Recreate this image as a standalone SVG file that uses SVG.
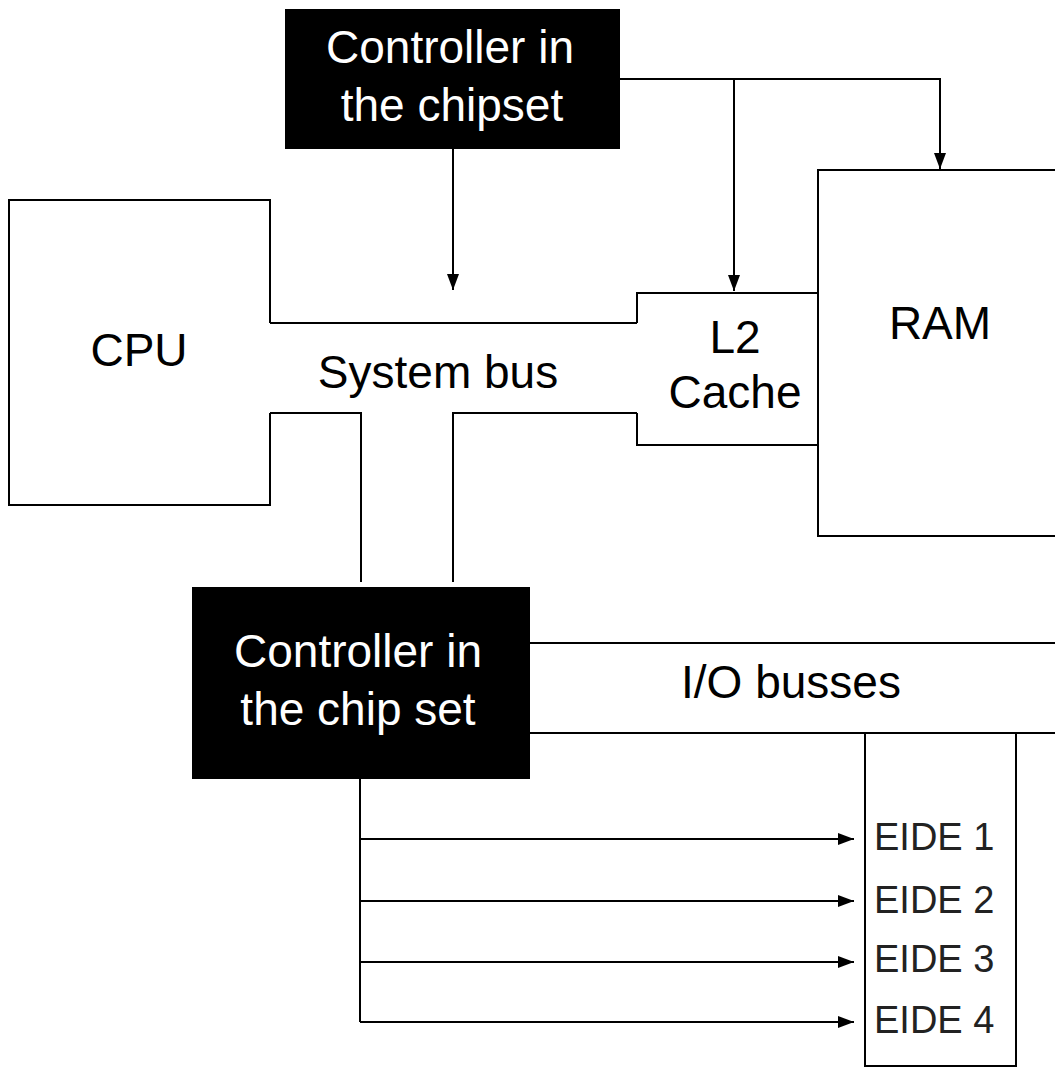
<svg xmlns="http://www.w3.org/2000/svg" width="1055" height="1068" viewBox="0 0 1055 1068">
<style>
.ln{fill:none;stroke:#000;stroke-width:2}
.box{fill:#000}
.wt{fill:#fff;font-family:"Liberation Sans",Arial,sans-serif;font-size:46px;text-anchor:middle}
.bt{fill:#000;font-family:"Liberation Sans",Arial,sans-serif;font-size:46px;text-anchor:middle}
.et{fill:#222;font-family:"Liberation Sans",Arial,sans-serif;font-size:38px}
</style>
<defs>
<marker id="ah" markerUnits="userSpaceOnUse" markerWidth="16" markerHeight="12" refX="16" refY="6" orient="auto">
<path d="M0,0 L16,6 L0,12 z" fill="#000"/>
</marker>
</defs>
<rect width="1055" height="1068" fill="#fff"/>
<g id="controller-top">
<rect class="box" x="285" y="9" width="335" height="140"/>
<text class="wt" x="450" y="63">Controller in</text>
<text class="wt" x="452" y="121">the chipset</text>
</g>
<g id="cpu">
<path class="ln" d="M270,323 V200 H9 V505 H270 V413"/>
<text class="bt" x="139" y="366">CPU</text>
</g>
<g id="system-bus">
<path class="ln" d="M270,323 H637"/>
<path class="ln" d="M270,413 H361 V582"/>
<path class="ln" d="M453,582 V413 H637"/>
<text class="bt" x="438" y="388">System bus</text>
</g>
<g id="l2-cache">
<path class="ln" d="M637,323 V293 H817"/>
<path class="ln" d="M637,413 V445 H817"/>
<text class="bt" x="735" y="353">L2</text>
<text class="bt" x="735" y="408">Cache</text>
</g>
<g id="ram">
<path class="ln" d="M1056,170 H818 V536 H1056"/>
<text class="bt" x="940" y="339">RAM</text>
</g>
<g id="controller-bottom">
<rect class="box" x="192" y="587" width="338" height="192"/>
<text class="wt" x="358" y="667">Controller in</text>
<text class="wt" x="358" y="725">the chip set</text>
</g>
<g id="io-busses">
<path class="ln" d="M530,643 H1056"/>
<path class="ln" d="M530,733 H1056"/>
<text class="bt" x="791" y="698">I/O busses</text>
</g>
<g id="eide">
<path class="ln" d="M865,733 V1066 H1016 V733"/>
<text class="et" x="874" y="850">EIDE 1</text>
<text class="et" x="874" y="913">EIDE 2</text>
<text class="et" x="874" y="972">EIDE 3</text>
<text class="et" x="874" y="1033">EIDE 4</text>
</g>
<g id="connectors">
<path class="ln" d="M620,79 H940 V169" marker-end="url(#ah)"/>
<path class="ln" d="M734,79 V291" marker-end="url(#ah)"/>
<path class="ln" d="M453,149 V290" marker-end="url(#ah)"/>
<path class="ln" d="M360,779 V1022"/>
<path class="ln" d="M360,839 H854" marker-end="url(#ah)"/>
<path class="ln" d="M360,901 H854" marker-end="url(#ah)"/>
<path class="ln" d="M360,962 H854" marker-end="url(#ah)"/>
<path class="ln" d="M360,1022 H854" marker-end="url(#ah)"/>
</g>
</svg>
